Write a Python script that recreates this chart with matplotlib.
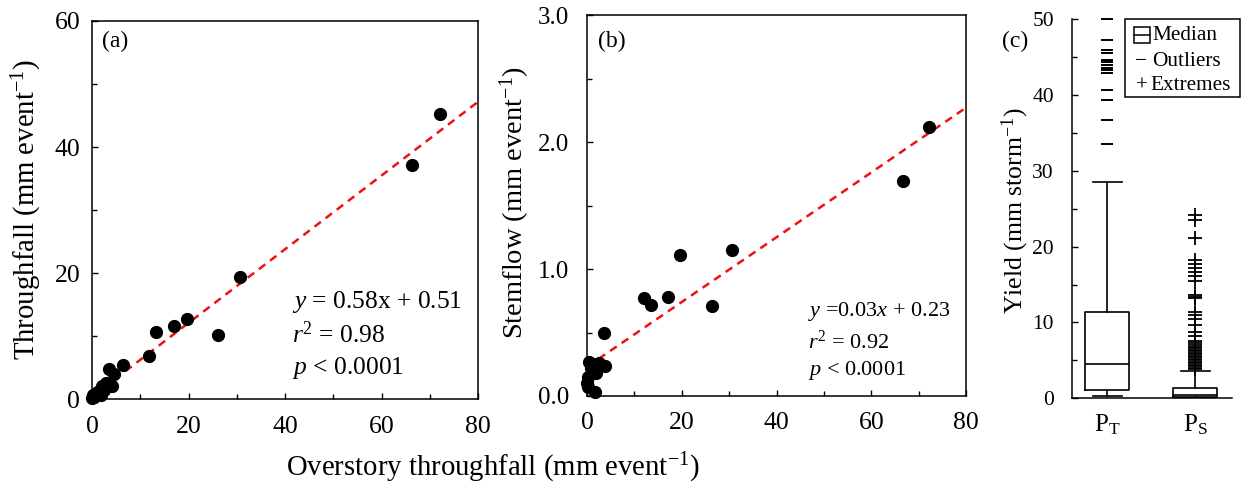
import matplotlib
matplotlib.use("Agg")
import matplotlib.pyplot as plt
from matplotlib.patches import Rectangle
from matplotlib.lines import Line2D
import numpy as np

plt.rcParams['font.family'] = ['Liberation Serif', 'DejaVu Serif']
plt.rcParams['mathtext.fontset'] = 'custom'
plt.rcParams['mathtext.rm'] = 'Liberation Serif'
plt.rcParams['mathtext.it'] = 'Liberation Serif:italic'
plt.rcParams['mathtext.bf'] = 'Liberation Serif:bold'

# ---------------- data ----------------
# (a) overstory throughfall vs throughfall
a_x = [72.1, 66.3, 30.7, 19.6, 16.9, 13.3, 26.2, 11.9, 6.4, 3.5, 4.6, 4.1, 2.0,
       1.4, 0.2, 0.0, 0.5, 1.0, 2.5, 3.0, 0.8, 1.8]
a_y = [45.2, 37.1, 19.4, 12.7, 11.6, 10.7, 10.2, 6.8, 5.4, 4.7, 3.9, 2.1, 2.0,
       1.2, 0.6, 0.1, 0.3, 0.8, 1.5, 2.5, 1.0, 0.6]
a_fit = [0.585, 0.37]   # slope, intercept of drawn line

# (b) overstory throughfall vs stemflow
b_x = [72.2, 66.6, 30.7, 19.6, 12.0, 13.6, 17.2, 26.3, 3.6, 3.8, 2.0, 0.5, 1.2,
       1.7, 0.2, 0.2, 2.6, 0.8, 0.1]
b_y = [2.12, 1.69, 1.15, 1.11, 0.77, 0.72, 0.78, 0.71, 0.50, 0.24, 0.18, 0.27,
       0.25, 0.03, 0.07, 0.15, 0.26, 0.22, 0.10]
b_fit = [0.0255, 0.23]

# (c) box plot statistics
c_labels = [r'P$_{\mathrm{T}}$', r'P$_{\mathrm{S}}$']
c_q1 = [1.1, 0.15]
c_med = [4.5, 0.45]
c_q3 = [11.4, 1.4]
c_whislo = [0.3, 0.0]
c_whishi = [28.5, 3.6]
pt_outliers = [49.96, 47.2, 45.9, 45.5, 44.6, 44.3, 43.9, 43.6, 43.3, 42.9,
               40.6, 39.3, 36.7, 33.5]
ps_extremes = [24.2, 23.5, 21.1, 18.2, 17.7, 17.2, 16.7, 16.1, 15.5, 13.6,
               13.4, 13.2, 11.4, 11.0, 10.5, 9.7, 8.8, 8.2, 7.6, 7.3, 7.0, 6.8,
               6.6, 6.4, 6.2, 6.0, 5.8, 5.6, 5.4, 5.2, 5.0, 4.8, 4.6, 4.4, 4.2,
               4.0, 3.9]

# ---------------- figure ----------------
fig = plt.figure(figsize=(12.45, 4.88), dpi=100)
W, H = 1245.0, 488.0

def fx(x): return x / W
def fy(y): return 1 - y / H

def px_axes(l, t, r, b):
    return fig.add_axes([l / W, (H - b) / H, (r - l) / W, (b - t) / H])

axA = px_axes(92, 21, 478, 399)
axB = px_axes(587, 15, 966, 396)
axC = px_axes(1072, 19, 1232, 398.3)

def style_scatter_axes(ax, fsx, fsy, padx, pady):
    for s in ax.spines.values():
        s.set_linewidth(1.1)
    ax.tick_params(which='both', direction='in', top=False, right=False,
                   width=1.0)
    ax.tick_params(which='major', length=4)
    ax.tick_params(which='minor', length=3.5)
    ax.tick_params(axis='x', which='both', pad=padx, labelsize=fsx)
    ax.tick_params(axis='y', which='both', pad=pady, labelsize=fsy)

RED = '#ee1111'
xx = np.array([0, 80])

# panel (a)
axA.plot(a_x, a_y, 'o', color='black', markersize=8.5, clip_on=False, zorder=3)
axA.plot(xx, a_fit[0] * xx + a_fit[1], color=RED, lw=1.8,
         dashes=(3.2, 2.4), zorder=2)
axA.set_xlim(0, 80)
axA.set_ylim(0, 60)
axA.set_xticks([0, 20, 40, 60, 80])
axA.set_xticks([10, 30, 50, 70], minor=True)
axA.set_yticks([0, 20, 40, 60])
axA.set_yticks([10, 30, 50], minor=True)
style_scatter_axes(axA, 18.5, 18.5, 12.0, 8.5)
fig.text(fx(27), fy(210), r'Throughfall (mm event$^{\mathrm{-1}}$)', fontsize=20.7,
         rotation=90, ha='center', va='center')
axA.text(0.026, 0.945, '(a)', transform=axA.transAxes, fontsize=17,
         ha='left', va='center')
fsA = 18.4
axA.text(0.518, 0.257, r'$y$ = 0.58x + 0.51', transform=axA.transAxes,
         fontsize=fsA, ha='left', va='center')
axA.text(0.518, 0.169, r'$r^{\mathrm{2}}$ = 0.98', transform=axA.transAxes,
         fontsize=fsA, ha='left', va='center')
axA.text(0.518, 0.082, r'$p$ < 0.0001', transform=axA.transAxes,
         fontsize=fsA, ha='left', va='center')

# panel (b)
axB.plot(b_x, b_y, 'o', color='black', markersize=8.5, clip_on=False, zorder=3)
axB.plot(xx, b_fit[0] * xx + b_fit[1], color=RED, lw=1.8,
         dashes=(3.2, 2.4), zorder=2)
axB.set_xlim(0, 80)
axB.set_ylim(0, 3)
axB.set_xticks([0, 20, 40, 60, 80])
axB.set_xticks([10, 30, 50, 70], minor=True)
axB.set_yticks([0, 1, 2, 3])
axB.set_yticklabels(['0.0', '1.0', '2.0', '3.0'])
axB.set_yticks([0.5, 1.5, 2.5], minor=True)
style_scatter_axes(axB, 18.5, 18.0, 11.5, 13.0)
fig.text(fx(515), fy(203), r'Stemflow (mm event$^{\mathrm{-1}}$)', fontsize=20.5,
         rotation=90, ha='center', va='center')
axB.text(0.029, 0.93, '(b)', transform=axB.transAxes, fontsize=17,
         ha='left', va='center')
fsB = 16
axB.text(0.583, 0.221, r'$y$ =0.03$x$ + 0.23', transform=axB.transAxes,
         fontsize=fsB, ha='left', va='center')
axB.text(0.583, 0.142, r'$r^{\mathrm{2}}$ = 0.92', transform=axB.transAxes,
         fontsize=fsB, ha='left', va='center')
axB.text(0.583, 0.068, r'$p$ < 0.0001', transform=axB.transAxes,
         fontsize=fsB, ha='left', va='center')

fig.text(fx(493), fy(468), r'Overstory throughfall (mm event$^{\mathrm{-1}}$)',
         fontsize=20.7, ha='center', va='center')

# panel (c)
stats = []
for i in range(2):
    stats.append(dict(q1=c_q1[i], med=c_med[i], q3=c_q3[i],
                      whislo=c_whislo[i], whishi=c_whishi[i], fliers=[]))
lp = dict(color='black', linewidth=1.2)
axC.bxp(stats, positions=[1, 2], widths=0.51, capwidths=0.33, showfliers=False,
        boxprops=lp, medianprops=lp, whiskerprops=lp, capprops=lp,
        manage_ticks=False)
axC.plot([1] * len(pt_outliers), pt_outliers, linestyle='none', marker='_',
         markersize=9.2, markeredgewidth=1.4, color='black', clip_on=False)
axC.plot([2] * len(ps_extremes), ps_extremes, linestyle='none', marker='+',
         markersize=9.5, markeredgewidth=1.3, color='black', clip_on=False)
axC.set_xlim(0.602, 2.42)
axC.set_ylim(0, 50)
axC.spines['top'].set_visible(False)
axC.spines['right'].set_visible(False)
axC.spines['left'].set_linewidth(1.1)
axC.spines['bottom'].set_linewidth(1.1)
axC.set_xticks([1, 2])
axC.set_xticklabels(c_labels, fontsize=18)
axC.set_yticks([0, 10, 20, 30, 40, 50])
axC.set_yticks([5, 15, 25, 35, 45], minor=True)
axC.tick_params(axis='y', which='both', direction='in', labelsize=15.5, pad=13, width=1.0)
axC.tick_params(axis='y', which='major', length=4)
axC.tick_params(axis='y', which='minor', length=3.5)
axC.tick_params(axis='x', length=0, pad=10)
fig.text(fx(1015), fy(211), r'Yield (mm storm$^{\mathrm{-1}}$)', fontsize=18.5,
         rotation=90, ha='center', va='center')
fig.text(fx(1015), fy(41), '(c)', fontsize=17, ha='center', va='center')

# legend of (c), drawn manually in figure pixels
fig.add_artist(Rectangle((fx(1125), fy(97)), (1240 - 1125) / W, (97 - 19) / H,
                         transform=fig.transFigure, fill=False, edgecolor='black',
                         linewidth=1.1))
fig.add_artist(Rectangle((fx(1134), fy(43)), 16 / W, 16 / H,
                         transform=fig.transFigure, fill=False, edgecolor='black',
                         linewidth=1.1))
fig.add_artist(Line2D([fx(1134), fx(1150)], [fy(35), fy(35)],
                      transform=fig.transFigure, color='black', linewidth=1.1))
fsL = 15.3
fig.text(fx(1152), fy(35), 'Median', fontsize=fsL, ha='left', va='center')
fig.text(fx(1141), fy(62), '\u2212', fontsize=fsL, ha='center', va='center')
fig.text(fx(1152), fy(62), 'Outliers', fontsize=fsL, ha='left', va='center')
fig.text(fx(1142), fy(86), '+', fontsize=fsL, ha='center', va='center')
fig.text(fx(1150), fy(86), 'Extremes', fontsize=fsL, ha='left', va='center')

fig.savefig('out.png', dpi=100)
